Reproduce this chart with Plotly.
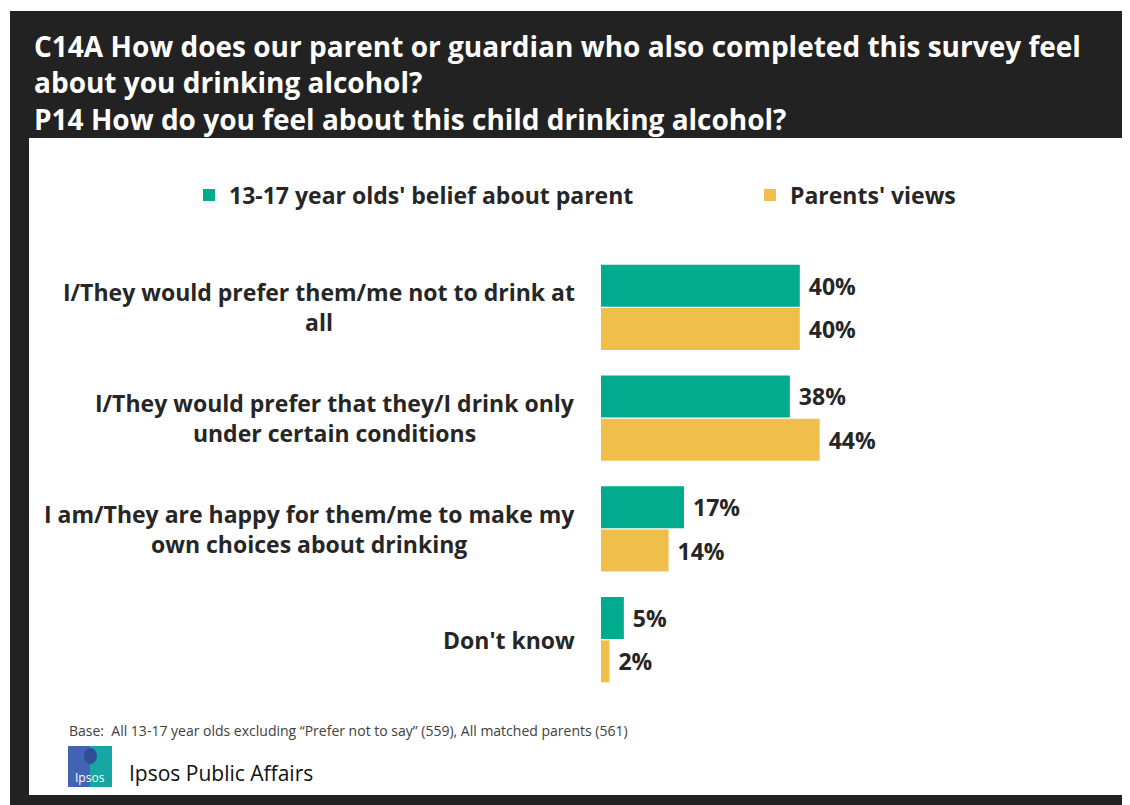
import plotly.graph_objects as go

# ---------------- data ----------------
categories = [
    "I/They would prefer them/me not to drink at<br>all",
    "I/They would prefer that they/I drink only<br>under certain conditions",
    "I am/They are happy for them/me to make my<br>own choices about drinking",
    "Don't know",
]
series_names = ["13-17 year olds' belief about parent", "Parents' views"]
teens_values = [40.0, 38.0, 16.7, 4.6]
parents_values = [40.0, 44.0, 13.6, 1.7]

title_lines = [
    "C14A How does our parent or guardian who also completed this survey feel",
    "about you drinking alcohol?",
    "P14 How do you feel about this child drinking alcohol?",
]
footnote = "Base:  All 13-17 year olds excluding \u201cPrefer not to say\u201d (559), All matched parents (561)"
brand = "Ipsos Public Affairs"

# ---------------- style ----------------
OFF = 8  # page offset of the figure (body margin)
W, H = 1122, 797
ML, MR, MT, MB = 593, 32, 244, 110
PW, PH = W - ML - MR, H - MT - MB
TEAL = "#00AB8E"
GOLD = "#F0BE4B"
DARK = "#222222"
TXT = "#262626"
FONT = "Open Sans, Noto Sans, sans-serif"


def xp(px):
    """page pixel x -> paper fraction"""
    return (px - OFF - ML) / PW


def yp(py):
    """page pixel y -> paper fraction"""
    return 1 - (py - OFF - MT) / PH


fig = go.Figure()
for i, (name, vals, col) in enumerate([(series_names[0], teens_values, TEAL),
                                        (series_names[1], parents_values, GOLD)]):
    fig.add_trace(go.Bar(
        name=name, x=vals, y=categories, orientation="h",
        marker=dict(color=col, line=dict(width=0)),
        texttemplate="\u00a0%{x:.0f}%", textposition="outside", constraintext="none",
        textfont=dict(family=FONT, size=23, color=TXT, weight="bold"),
        cliponaxis=False, hoverinfo="skip",
        legend="legend" if i == 0 else "legend2",
    ))

shapes = [
    dict(type="rect", xref="paper", yref="paper", x0=xp(10), x1=xp(1135), y0=yp(11), y1=yp(810),
         fillcolor=DARK, line=dict(width=0), layer="below"),
    dict(type="rect", xref="paper", yref="paper", x0=xp(29), x1=xp(1125), y0=yp(138), y1=yp(795),
         fillcolor="white", line=dict(width=0), layer="below"),
    dict(type="rect", xref="paper", yref="paper", x0=xp(68), x1=xp(90), y0=yp(746), y1=yp(787),
         fillcolor="#4363B4", line=dict(width=0), layer="above"),
    dict(type="rect", xref="paper", yref="paper", x0=xp(90), x1=xp(112), y0=yp(746), y1=yp(787),
         fillcolor="#16A6A3", line=dict(width=0), layer="above"),
    dict(type="circle", xref="paper", yref="paper", x0=xp(84), x1=xp(97), y0=yp(748), y1=yp(764),
         fillcolor="#2F4E96", line=dict(width=0), layer="above"),
]

annotations = [
    dict(text="<br>".join(title_lines), xref="paper", yref="paper", x=xp(32), y=yp(25),
         xanchor="left", yanchor="top", align="left", showarrow=False,
         font=dict(family=FONT, size=28, color="white", weight="bold")),
    dict(text=footnote, xref="paper", yref="paper", x=xp(67), y=yp(730),
         xanchor="left", yanchor="middle", showarrow=False,
         font=dict(family=FONT, size=14, color="#404040")),
    dict(text=brand, xref="paper", yref="paper", x=xp(127), y=yp(773),
         xanchor="left", yanchor="middle", showarrow=False,
         font=dict(family=FONT, size=21, color="#111111")),
    dict(text="Ipsos", xref="paper", yref="paper", x=xp(90), y=yp(777),
         xanchor="center", yanchor="middle", showarrow=False,
         font=dict(family=FONT, size=12, color="white")),
]
for c in categories:
    annotations.append(dict(text=c, xref="paper", yref="y", x=xp(577), y=c,
                            xanchor="right", yanchor="middle", align="center", showarrow=False,
                            font=dict(family=FONT, size=23, color=TXT, weight="bold")))

legend_common = dict(orientation="h", yanchor="middle", xanchor="left", bgcolor="rgba(0,0,0,0)",
                     font=dict(family=FONT, size=23, color=TXT, weight="bold"))

fig.update_layout(
    width=W, height=H,
    margin=dict(l=ML, r=MR, t=MT, b=MB, autoexpand=False),
    paper_bgcolor="white", plot_bgcolor="rgba(0,0,0,0)",
    barmode="group", bargap=0.216, bargroupgap=0.034,
    showlegend=True,
    legend=dict(x=xp(189), y=yp(195), **legend_common),
    legend2=dict(x=xp(750), y=yp(195), **legend_common),
    xaxis=dict(range=[0, 100], visible=False, fixedrange=True),
    yaxis=dict(categoryorder="array", categoryarray=categories, autorange="reversed",
               showticklabels=False, showgrid=False, zeroline=False, showline=False, fixedrange=True),
    shapes=shapes, annotations=annotations,
    font=dict(family=FONT),
)

fig.write_html("out.html")
